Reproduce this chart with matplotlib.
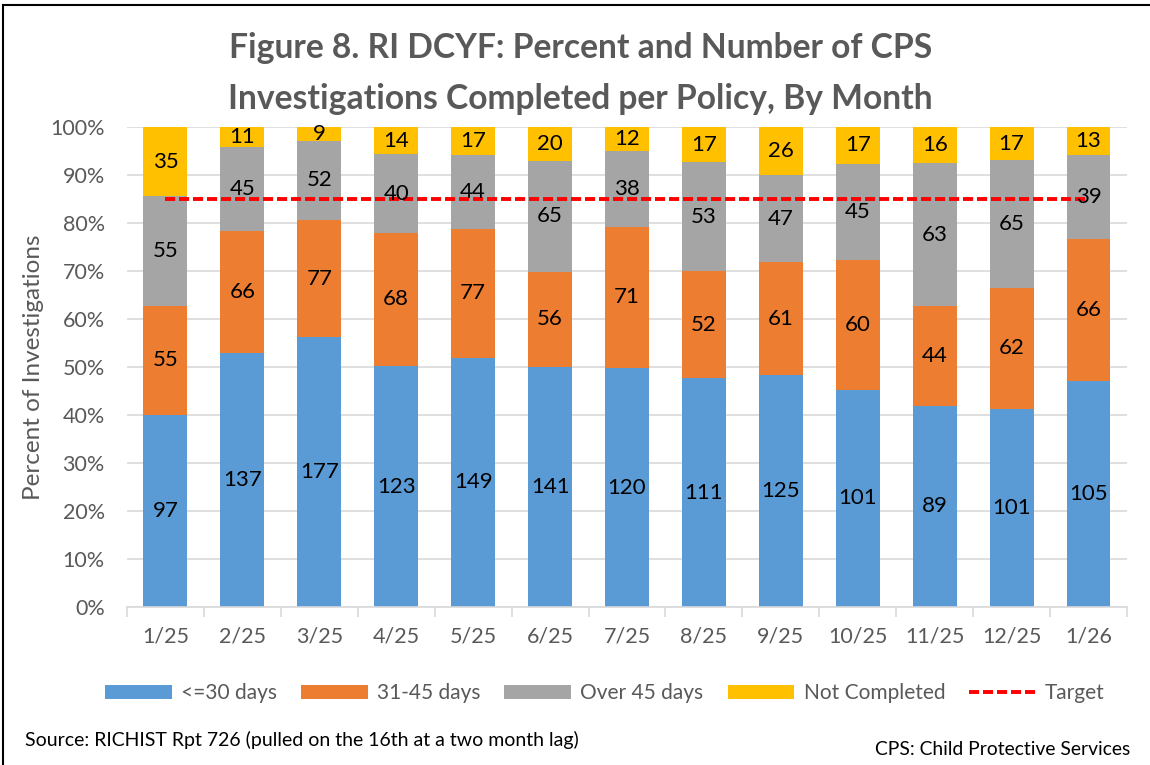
import numpy as np
import matplotlib.pyplot as plt
from matplotlib.lines import Line2D

plt.rcParams['font.family'] = ['Lato', 'DejaVu Sans']

months = ['1/25', '2/25', '3/25', '4/25', '5/25', '6/25', '7/25',
          '8/25', '9/25', '10/25', '11/25', '12/25', '1/26']
le30 = [97, 137, 177, 123, 149, 141, 120, 111, 125, 101, 89, 101, 105]
d31_45 = [55, 66, 77, 68, 77, 56, 71, 52, 61, 60, 44, 62, 66]
over45 = [55, 45, 52, 40, 44, 65, 38, 53, 47, 45, 63, 65, 39]
not_done = [35, 11, 9, 14, 17, 20, 12, 17, 26, 17, 16, 17, 13]
target = 0.85

series = [le30, d31_45, over45, not_done]
names = ['<=30 days', '31-45 days', 'Over 45 days', 'Not Completed']
colors = ['#5B9BD5', '#ED7D31', '#A5A5A5', '#FFC000']

counts = np.array(series, dtype=float)
pct = counts / counts.sum(axis=0)

fig = plt.figure(figsize=(11.5, 7.65), dpi=100)
ax = fig.add_axes([0.1104, 0.2065, 0.8696, 0.6275])

x = np.arange(len(months))
bottom = np.zeros(len(months))
handles = []
for vals, p, name, c in zip(series, pct, names, colors):
    bars = ax.bar(x, p, 0.57, bottom=bottom, color=c, label=name, zorder=2)
    handles.append(bars)
    for xi, b, pi, v in zip(x, bottom, p, vals):
        ax.text(xi, b + pi / 2, str(v), ha='center', va='center',
                fontsize=16, color='black', zorder=4)
    bottom += p

tline, = ax.plot(x, [target] * len(x), color='#FF0000', ls=(0, (2.6, 1.0)), lw=2.8,
                 zorder=3, label='Target')
handles.append(tline)

ax.set_xlim(-0.5, len(months) - 0.5)
ax.set_ylim(0, 1)
yt = np.arange(0, 1.01, 0.1)
ax.set_yticks(yt)
ax.set_yticklabels([f'{int(round(t * 100))}%' for t in yt])
ax.set_xticks(x)
ax.set_xticklabels(months)
# small marks between the months, under the axis line
ax.set_xticks(np.arange(-0.5, len(months), 1), minor=True)
ax.tick_params(axis='x', which='minor', length=7, width=1.2, color='#D9D9D9')
ax.tick_params(axis='both', which='major', length=0, labelsize=15.5, colors='#595959')
ax.tick_params(axis='x', which='major', pad=14)
ax.tick_params(axis='y', which='major', pad=16)
ax.grid(axis='y', color='#D9D9D9', lw=1.2, zorder=0)
ax.set_axisbelow(True)
for s in ['top', 'right', 'left']:
    ax.spines[s].set_visible(False)
ax.spines['bottom'].set_color('#D9D9D9')
ax.spines['bottom'].set_linewidth(1.2)
ax.set_ylabel('Percent of Investigations', fontsize=17.5, color='#595959')
ax.yaxis.set_label_coords(-0.083, 0.5)

fig.text(0.505, 0.904, 'Figure 8. RI DCYF: Percent and Number of CPS\nInvestigations Completed per Policy, By Month',
         ha='center', va='center', fontsize=24.2, fontweight='bold', color='#595959',
         linespacing=1.7)

fig.legend(handles, names + ['Target'], loc='center', bbox_to_anchor=(0.526, 0.094), ncol=5,
           frameon=False, fontsize=15, labelcolor='#595959', handlelength=3.2,
           handleheight=0.67, columnspacing=1.15, handletextpad=0.45)

fig.text(0.022, 0.033, 'Source: RICHIST Rpt 726 (pulled on the 16th at a two month lag)',
         ha='left', va='center', fontsize=14, color='black')
fig.text(0.983, 0.02, 'CPS: Child Protective Services', ha='right', va='center',
         fontsize=13.9, color='black')

# frame lines on top and left, like the cropped screenshot
fig.add_artist(Line2D([0.003, 0.003], [0, 0.994], color='black', lw=1.5))
fig.add_artist(Line2D([0.003, 1], [0.994, 0.994], color='black', lw=1.5))

fig.savefig('out.png', dpi=100)
